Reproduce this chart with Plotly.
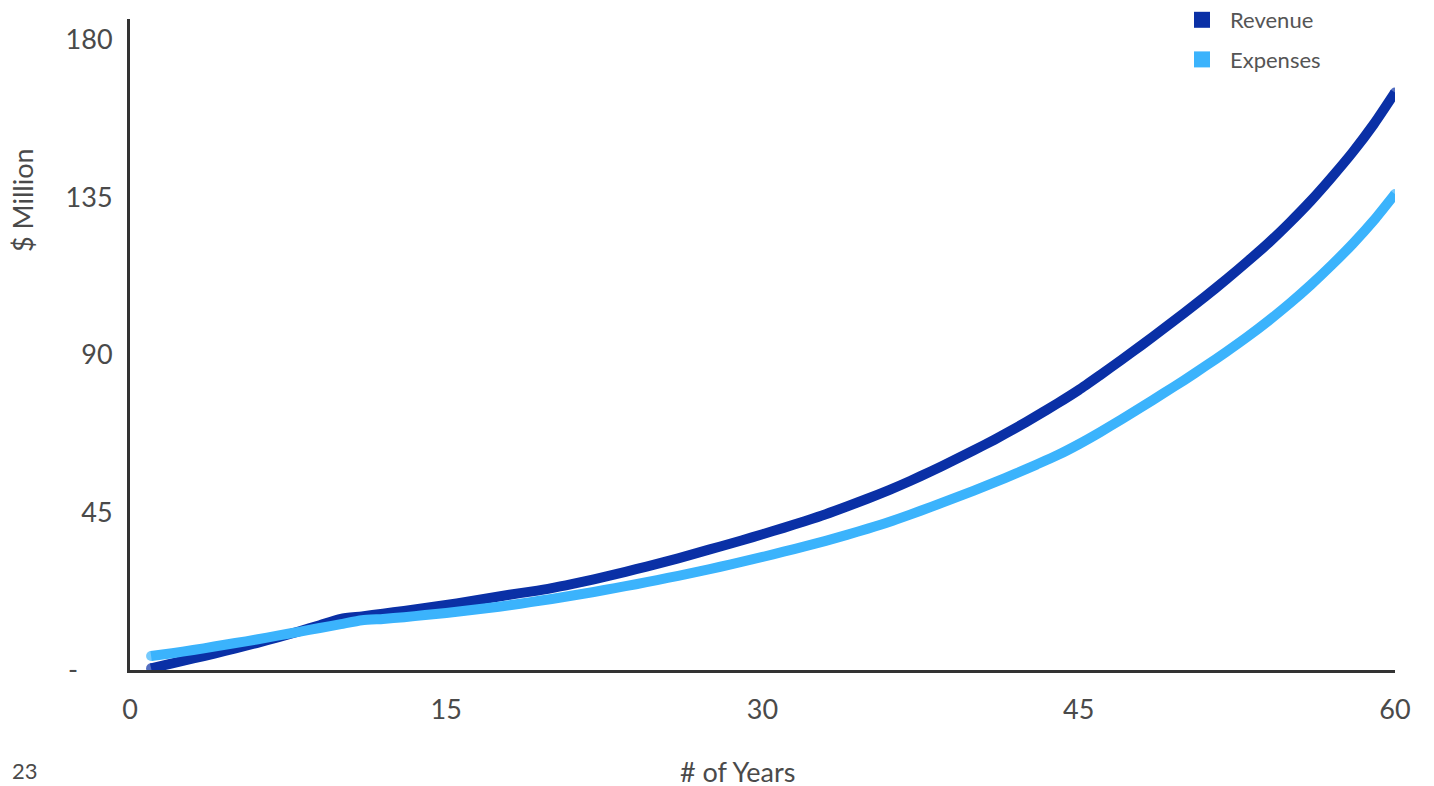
import plotly.graph_objects as go

years = list(range(1, 61))

revenue = [0.5, 1.9, 3.3, 4.7, 6.2, 7.7, 9.3, 11.0, 12.8, 14.6,
           15.3, 16.1, 16.9, 17.7, 18.6, 19.5, 20.5, 21.5, 22.4, 23.4,
           24.6, 25.9, 27.3, 28.8, 30.3, 31.9, 33.6, 35.3, 37.0, 38.8,
           40.6, 42.5, 44.5, 46.7, 49.0, 51.4, 54.0, 56.8, 59.7, 62.7,
           65.8, 69.1, 72.6, 76.2, 80.0, 84.2, 88.5, 92.9, 97.4, 102.0,
           106.7, 111.6, 116.7, 122.0, 127.8, 134.0, 140.8, 148.0, 156.0, 165.0]

expenses = [4.0, 4.8, 5.7, 6.7, 7.7, 8.7, 9.8, 10.9, 12.0, 13.1,
            14.2, 14.6, 15.1, 15.7, 16.3, 17.0, 17.7, 18.5, 19.4, 20.3,
            21.3, 22.3, 23.4, 24.5, 25.7, 26.9, 28.2, 29.5, 30.9, 32.3,
            33.8, 35.3, 36.9, 38.6, 40.4, 42.3, 44.4, 46.6, 48.9, 51.2,
            53.6, 56.1, 58.7, 61.4, 64.5, 67.9, 71.5, 75.2, 79.0, 82.8,
            86.8, 90.9, 95.2, 99.8, 104.7, 110.0, 115.7, 121.8, 128.5, 136.0]

series_names = ["Revenue", "Expenses"]
colors = {"Revenue": "#0a30a6", "Expenses": "#3bb3fc"}

y_tickvals = [0, 45, 90, 135, 180]
y_ticktext = ["-" + "\u00a0" * 5, "45", "90", "135", "180"]
x_tickvals = [0, 15, 30, 45, 60]

FONT = "Lato, 'Open Sans', sans-serif"
TXT = "#4a4a4a"

# page has an 8px body margin; figure is sized to fit the window
W, H = 1426, 778
PL, PR, PT, PB = 130, 1395, 19, 670  # plot area in page pixels
OFF = 8

fig = go.Figure()

def caps(n, s):
    return [s] + [0] * (n - 2) + [s]

for name, vals in (("Revenue", revenue), ("Expenses", expenses)):
    fig.add_trace(go.Scatter(
        x=years, y=vals, mode="lines+markers", name=name,
        line=dict(color=colors[name], width=10, shape="spline", smoothing=0.6),
        marker=dict(color=colors[name], size=caps(len(vals), 10), line=dict(width=0)),
        showlegend=False, hoverinfo="x+y+name"))

for i, name in enumerate(series_names):
    fig.add_trace(go.Scatter(
        x=[None], y=[None], mode="markers", name=name,
        marker=dict(symbol="square", size=20, color=colors[name]),
        legendgroup=name, showlegend=True))

pw, ph = PR - PL, PB - PT

def px(x):
    return (x - PL) / pw

def py(y):
    return (PB - y) / ph

fig.update_layout(
    width=W, height=H,
    margin=dict(l=PL - OFF, r=W - (PR - OFF), t=PT - OFF, b=H - (PB - OFF), autoexpand=False),
    paper_bgcolor="white", plot_bgcolor="white",
    font=dict(family=FONT, color=TXT, size=27),
    showlegend=True,
    legend=dict(
        x=px(1174), y=py(-1), xanchor="left", yanchor="top",
        bgcolor="rgba(0,0,0,0)",
        font=dict(family=FONT, size=22, color="#555555"),
        traceorder="grouped", tracegroupgap=8,
        itemsizing="trace", itemwidth=46,
    ),
    xaxis=dict(
        range=[0, 60], tickvals=x_tickvals, ticktext=[str(v) for v in x_tickvals],
        showgrid=False, zeroline=False, showline=True, linecolor="#333333", linewidth=3,
        ticks="", ticklabelstandoff=14, tickfont=dict(size=27, color=TXT),
    ),
    yaxis=dict(
        range=[0, 186], tickvals=y_tickvals, ticktext=y_ticktext,
        showgrid=False, zeroline=False, showline=True, linecolor="#333333", linewidth=3,
        ticks="", ticklabelstandoff=9, tickfont=dict(size=27, color=TXT),
    ),
    annotations=[
        dict(text="$ Million", xref="paper", yref="paper", x=px(22), y=py(200),
             xanchor="center", yanchor="middle", textangle=-90, showarrow=False,
             font=dict(size=27, color=TXT)),
        dict(text="# of Years", xref="paper", yref="paper", x=px(737), y=py(771),
             xanchor="center", yanchor="middle", showarrow=False,
             font=dict(size=27, color=TXT)),
        dict(text="23", xref="paper", yref="paper", x=px(25), y=py(770),
             xanchor="center", yanchor="middle", showarrow=False,
             font=dict(size=22, color=TXT)),
    ],
)

fig.write_html("out.html")
